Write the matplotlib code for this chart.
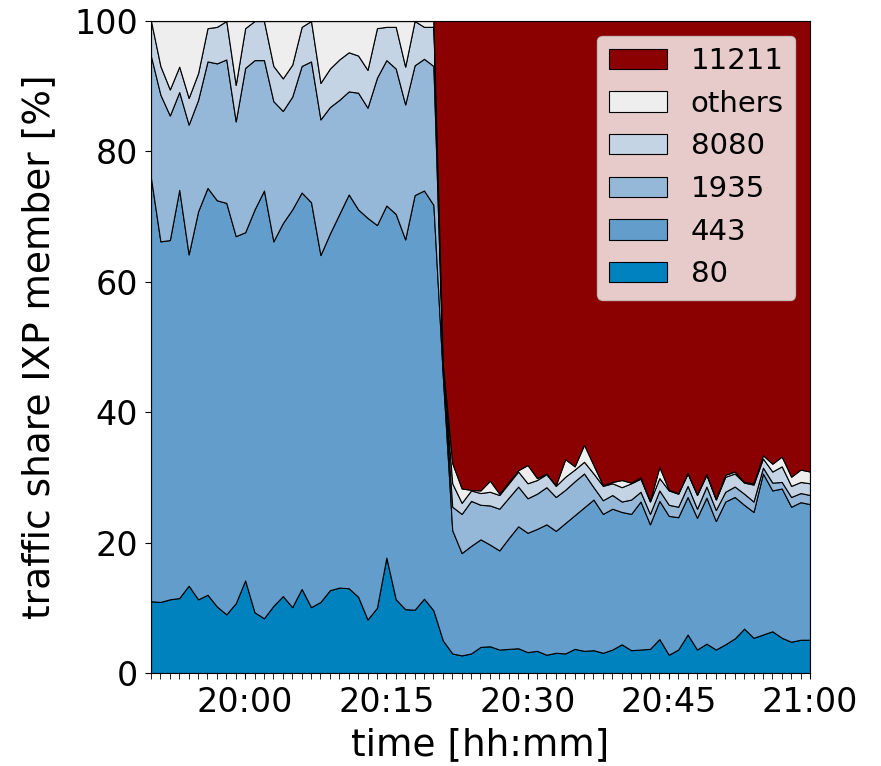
import pandas as pd
import matplotlib
matplotlib.use("Agg")
import matplotlib.pyplot as plt
import matplotlib.dates as mdates

# one sample per minute, 19:50 - 21:00
times = pd.date_range("2020-01-01 19:50", "2020-01-01 21:00", freq="1min")

# traffic share per port [%]
share_80 = [11.0, 10.9, 11.3, 11.5, 13.4, 11.3, 12.0, 10.2, 9.0, 10.7, 14.2, 9.3, 8.4, 10.3, 11.8, 10.1,
            12.9, 10.1, 10.9, 12.7, 13.1, 13.0, 11.7, 8.2, 10.0, 17.7, 11.3, 9.8, 9.7, 11.4, 9.6,
            5.0, 3.0, 2.7, 3.0, 4.0, 4.1, 3.6, 3.7, 3.8, 3.2, 3.4, 2.8, 3.1, 3.0, 3.7, 3.4, 3.5, 3.1,
            3.6, 4.4, 3.5, 3.6, 3.7, 5.2, 2.8, 3.6, 5.9, 3.6, 4.5, 3.6, 4.4, 5.3, 6.8, 5.4, 5.9, 6.4,
            5.4, 4.8, 5.1, 5.1]
share_443 = [64.9, 55.3, 55.1, 62.6, 50.8, 59.5, 62.4, 62.3, 63.1, 56.3, 53.4, 61.8, 65.6, 55.9, 57.2, 61.0,
             60.8, 62.1, 53.2, 54.7, 57.3, 60.4, 59.4, 61.6, 58.7, 54.0, 59.1, 56.7, 63.6, 62.6, 62.2,
             40.5, 18.9, 15.7, 16.5, 16.5, 15.6, 15.2, 17.0, 18.7, 18.3, 18.7, 20.0, 18.7, 20.0, 20.5,
             22.0, 23.1, 21.3, 21.6, 20.3, 20.9, 22.7, 19.1, 21.2, 21.3, 20.3, 21.1, 20.2, 22.4, 19.7,
             21.9, 21.7, 19.0, 19.3, 24.7, 21.6, 22.9, 20.7, 21.1, 20.8]
share_1935 = [18.7, 22.5, 19.1, 15.0, 19.9, 17.1, 19.4, 21.0, 22.0, 17.6, 25.2, 22.9, 20.0, 21.5, 17.2, 17.3,
              19.4, 21.6, 20.8, 19.4, 17.5, 15.8, 17.9, 16.9, 22.6, 22.3, 22.3, 20.7, 19.9, 20.2, 21.3,
              1.3, 3.6, 6.0, 6.9, 5.3, 6.0, 6.4, 6.2, 6.1, 5.3, 5.4, 5.7, 5.2, 5.1, 5.2, 5.2, 1.9, 2.1,
              2.1, 1.6, 2.2, 1.5, 1.6, 1.6, 1.7, 1.6, 1.7, 1.4, 1.7, 1.7, 1.5, 1.6, 1.7, 1.6, 0.9, 1.2,
              1.0, 1.5, 1.4, 1.4]
share_8080 = [5.4, 4.4, 4.0, 3.9, 4.1, 4.1, 5.1, 5.6, 5.9, 5.6, 6.1, 6.0, 6.0, 5.4, 5.0, 4.9,
              6.0, 6.2, 5.6, 5.9, 6.2, 6.0, 5.7, 5.8, 7.6, 5.1, 6.4, 5.8, 6.8, 4.9, 6.0,
              0.4, 3.6, 1.7, 1.6, 1.8, 2.1, 2.1, 2.2, 2.3, 2.3, 2.1, 2.0, 1.7, 2.0, 1.8, 1.8, 2.1, 2.2,
              1.8, 2.2, 2.5, 2.0, 1.9, 1.9, 2.2, 2.0, 1.9, 2.1, 1.8, 1.6, 2.3, 2.0, 1.7, 2.6, 1.4, 1.7,
              2.4, 1.7, 1.7, 1.8]
share_others = [0.0, 6.9, 10.5, 7.0, 11.8, 8.0, 1.1, 0.9, 0.0, 9.8, 1.1, 0.0, 0.0, 6.9, 8.8, 6.7,
                0.9, 0.0, 9.5, 7.3, 5.9, 4.8, 5.3, 7.5, 1.1, 0.9, 0.9, 7.0, 0.0, 0.9, 0.9,
                0.3, 3.1, 2.2, 0.1, 0.4, 1.7, 0.2, 0.2, 0.2, 2.8, 0.3, 0.1, 0.1, 2.7, 0.5, 2.6, 1.3, 0.1,
                0.2, 1.1, 0.1, 0.2, 0.1, 1.7, 0.1, 0.1, 0.1, 0.1, 0.1, 0.1, 0.3, 0.3, 0.1, 0.2, 0.5, 1.2,
                1.5, 1.4, 1.9, 1.8]
share_11211 = [0.0] * 31 + [52.5, 67.8, 71.7, 71.9, 72.0, 70.5, 72.5, 70.7, 68.9, 68.1, 70.1, 69.4, 71.2,
                            67.2, 68.3, 65.0, 68.1, 71.2, 70.7, 70.4, 70.8, 70.0, 73.6, 68.4, 71.9, 72.4,
                            69.3, 72.6, 69.5, 73.3, 69.6, 69.1, 70.7, 70.9, 66.6, 67.9, 66.8, 69.9, 68.8,
                            69.1]

labels = ["80", "443", "1935", "8080", "others", "11211"]
colors = ["#0082bf", "#639dcb", "#95b8d8", "#c4d4e5", "#eeeeee", "#8b0000"]

fig = plt.figure(figsize=(8.81, 7.66), dpi=100)
ax = fig.add_axes([0.1714, 0.1214, 0.748, 0.8512])

ax.stackplot(times, share_80, share_443, share_1935, share_8080, share_others, share_11211,
             labels=labels, colors=colors, edgecolor="black", linewidth=0.8)

ax.set_xlim(times[0], times[-1])
ax.set_ylim(0, 100)
ax.set_yticks([0, 20, 40, 60, 80, 100])
ax.xaxis.set_major_locator(mdates.MinuteLocator(byminute=[0, 15, 30, 45]))
ax.xaxis.set_minor_locator(mdates.MinuteLocator())
ax.xaxis.set_major_formatter(mdates.DateFormatter("%H:%M"))
ax.tick_params(axis="both", which="major", labelsize=24, length=4.5, pad=5)
ax.tick_params(axis="x", which="minor", length=4)

ax.set_xlabel("time [hh:mm]", fontsize=27, labelpad=6)
ax.set_ylabel("traffic share IXP member [%]", fontsize=27, labelpad=12)

handles, lbls = ax.get_legend_handles_labels()
ax.legend(handles[::-1], lbls[::-1], loc="upper right", fontsize=21)

fig.savefig("out.png", dpi=100)
